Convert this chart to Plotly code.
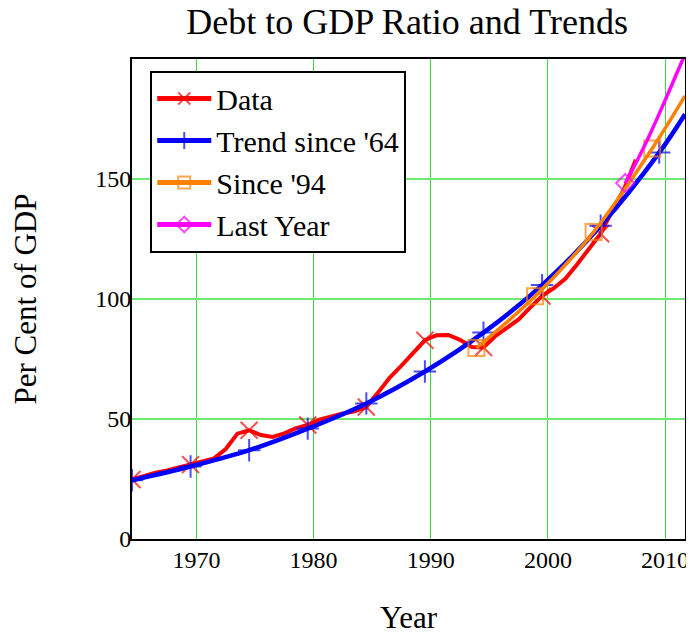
import plotly.graph_objects as go

# ---- data ----
data_years = [1964.5 + i for i in range(44)]
data_values = [24.8, 26.3, 27.6, 28.6, 29.8, 31.0, 32.3, 33.6, 37.5, 43.9,
               45.3, 43.3, 42.5, 44.0, 46.2, 47.5, 49.7, 51.2, 52.3, 53.2,
               55.0, 61.0, 67.3, 72.2, 77.6, 82.8, 84.9, 85.0, 83.0, 80.0,
               79.8, 84.5, 88.0, 91.5, 96.5, 101.2, 104.5, 108.5, 114.5, 121.0,
               127.2, 137.0, 145.8, 158.0]

trend64_years = [1964.5, 1969.5, 1974.5, 1979.5, 1984.5, 1989.5, 1994.5, 1999.5, 2004.5, 2009.5, 2011.7]
trend64_values = [24.5, 30.2, 37.0, 46.0, 56.5, 69.8, 86.0, 105.8, 130.5, 161.0, 177.0]

trend94_years = [1993.9, 1998.9, 2003.9, 2008.9, 2011.7]
trend94_values = [79.6, 101.1, 127.9, 162.7, 184.6]

last_years = [2006.6, 2007.6, 2008.6, 2009.6, 2010.6, 2011.7]
last_values = [148.3, 157.5, 167.5, 178.3, 189.5, 202.0]

x_ticks = [1970, 1980, 1990, 2000, 2010]
y_ticks = [0, 50, 100, 150]

FONT = "Liberation Serif, Times New Roman, serif"


def every5(n, size):
    return [size if i % 5 == 0 else 0 for i in range(n)]


fig = go.Figure()

fig.add_trace(go.Scatter(
    x=data_years, y=data_values, name="Data", mode="lines+markers",
    line=dict(color="#FF0000", width=4),
    marker=dict(symbol="x-thin-open", size=every5(len(data_years), 17),
                color="#FF0000", line=dict(color="#FF0000", width=2)),
))

fig.add_trace(go.Scatter(
    x=trend64_years, y=trend64_values, name="Trend since '64", mode="lines+markers",
    line=dict(color="#0000FF", width=4.5, shape="spline"),
    marker=dict(symbol="cross-thin-open",
                size=[16] * (len(trend64_years) - 1) + [0],
                color="#0000FF", line=dict(color="#0000FF", width=2)),
))

fig.add_trace(go.Scatter(
    x=trend94_years, y=trend94_values, name="Since '94", mode="lines+markers",
    line=dict(color="#FF8000", width=3.5, shape="spline"),
    marker=dict(symbol="square-open",
                size=[16] * (len(trend94_years) - 1) + [0],
                color="#FF8000", line=dict(color="#FF8000", width=2)),
))

fig.add_trace(go.Scatter(
    x=last_years, y=last_values, name="Last Year", mode="lines+markers",
    line=dict(color="#FF00FF", width=3.5, shape="spline"),
    marker=dict(symbol="diamond-open",
                size=[14] + [0] * (len(last_years) - 1),
                color="#FF00FF", line=dict(color="#FF00FF", width=2)),
))

fig.update_layout(
    width=694, height=633,
    paper_bgcolor="white", plot_bgcolor="white",
    margin=dict(l=124, r=17, t=51, b=102),
    font=dict(family=FONT, color="black", size=24),
    title=dict(text="Debt to GDP Ratio and Trends", x=0.575, xanchor="center",
               y=0.979, yanchor="middle", font=dict(family=FONT, size=36, color="black")),
    showlegend=True,
    legend=dict(x=0.033, y=0.976, xanchor="left", yanchor="top",
                bgcolor="white", bordercolor="black", borderwidth=2,
                font=dict(family=FONT, size=30, color="black"),
                itemsizing="constant", itemwidth=54, tracegroupgap=0),
)

fig.update_xaxes(
    range=[1964.5, 2011.7], tickvals=x_ticks, ticktext=[str(v) for v in x_ticks],
    showgrid=True, gridcolor="#3CD83C", gridwidth=1, zeroline=False,
    showline=True, linecolor="black", linewidth=2, mirror=True,
    ticks="", ticklabelstandoff=-2, automargin=False,
    tickfont=dict(family=FONT, size=24, color="black"),
    title=dict(text="Year", font=dict(family=FONT, size=31, color="black"), standoff=35),
)
fig.update_yaxes(
    range=[0, 200], tickvals=y_ticks, ticktext=[str(v) for v in y_ticks],
    showgrid=True, gridcolor="#6EE86E", gridwidth=1.5, zeroline=False,
    showline=True, linecolor="black", linewidth=2, mirror=True,
    ticks="", ticklabelstandoff=-6, automargin=False,
    tickfont=dict(family=FONT, size=24, color="black"),
    title=dict(text="Per Cent of GDP", font=dict(family=FONT, size=31, color="black"), standoff=49),
)

fig.write_html("out.html")
